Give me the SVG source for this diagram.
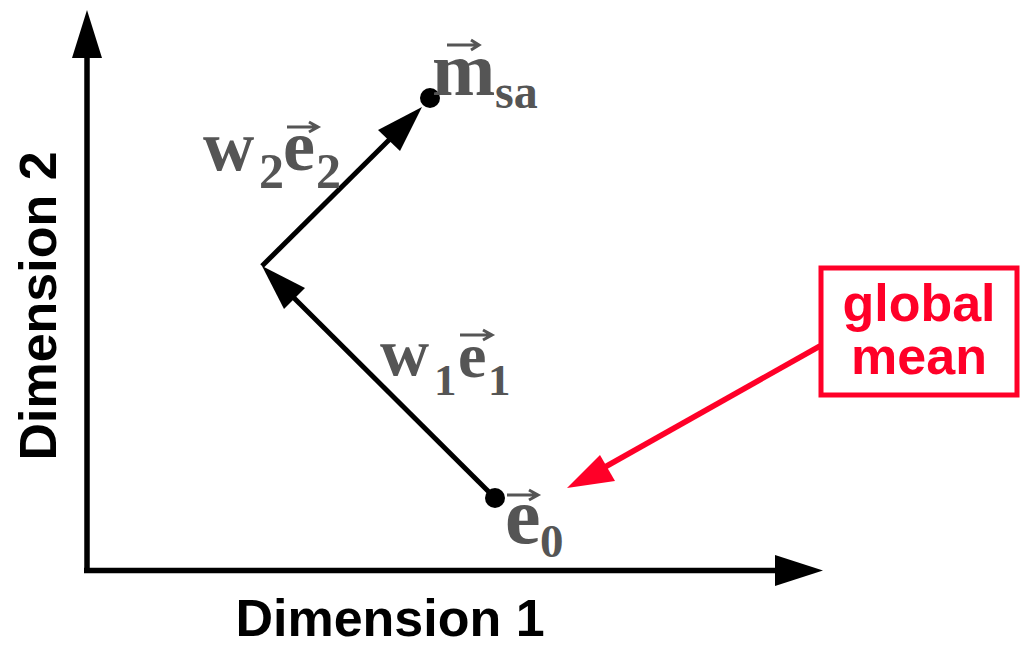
<svg xmlns="http://www.w3.org/2000/svg" width="1023" height="646" viewBox="0 0 1023 646">
<style>
.ax{stroke:#000;stroke-width:5.5;fill:none}
.vec{stroke:#000;stroke-width:5;fill:none}
.hd{fill:#000}
.lbl{font-family:"Liberation Sans",Arial,sans-serif;font-weight:bold;font-size:52px;fill:#000}
.m{font-family:"Liberation Serif","Times New Roman",serif;font-weight:bold;fill:#555}
.red{fill:#ff0028}
</style>
<rect width="1023" height="646" fill="#fff"/>
<g id="axes">
<line class="ax" x1="87" y1="573" x2="87" y2="56"/>
<polygon class="hd" points="87,10 72,58 102,58"/>
<line class="ax" x1="84" y1="570.5" x2="777" y2="570.5"/>
<polygon class="hd" points="823,570.5 775,555 775,586"/>
<text class="lbl" x="390" y="636" text-anchor="middle">Dimension 1</text>
<text class="lbl" transform="translate(56,306) rotate(-90)" text-anchor="middle">Dimension 2</text>
</g>
<g id="connectors">
<line class="vec" x1="495" y1="498" x2="290" y2="294"/>
<polygon class="hd" points="262,266 305,288 284,309"/>
<line class="vec" x1="262" y1="266" x2="392" y2="137"/>
<polygon class="hd" points="422,107 378,130 400,151"/>
<line stroke="#ff0028" stroke-width="5.5" x1="820" y1="346" x2="605" y2="467"/>
<polygon class="red" points="567,488 600,455 615,481"/>
</g>
<g id="e0">
<circle cx="495" cy="498" r="10" fill="#000"/>
<text class="m" x="505" y="543" font-size="80">e</text>
<text class="m" x="540" y="557" font-size="47">0</text>
<path d="M507,495 H537 M529,490 L538,495 L529,500" stroke="#555" stroke-width="3" fill="none"/>
</g>
<g id="msa">
<circle cx="430" cy="98" r="10" fill="#000"/>
<text class="m" x="432" y="95" font-size="76">m</text>
<text class="m" x="495" y="108" font-size="48">sa</text>
<path d="M447,45 H478 M471,40 L479,45 L471,50" stroke="#555" stroke-width="3" fill="none"/>
</g>
<g id="w2e2">
<text class="m" x="203" y="170" font-size="71">w</text>
<text class="m" x="259" y="188" font-size="50">2</text>
<text class="m" x="283" y="170" font-size="72">e</text>
<text class="m" x="316" y="188" font-size="50">2</text>
<path d="M287,127 H317 M309,122 L318,127 L309,132" stroke="#555" stroke-width="3" fill="none"/>
</g>
<g id="w1e1">
<text class="m" x="380" y="375" font-size="68">w</text>
<text class="m" x="434" y="395" font-size="45">1</text>
<text class="m" x="458" y="377" font-size="64">e</text>
<text class="m" x="488" y="395" font-size="45">1</text>
<path d="M460,335 H491 M483,330 L492,335 L483,340" stroke="#555" stroke-width="3" fill="none"/>
</g>
<g id="global-mean">
<rect x="821" y="268" width="196" height="127" fill="none" stroke="#ff0028" stroke-width="5"/>
<text class="lbl" x="919" y="321" text-anchor="middle" style="fill:#ff0028">global</text>
<text class="lbl" x="919" y="374" text-anchor="middle" style="fill:#ff0028">mean</text>
</g>
</svg>
